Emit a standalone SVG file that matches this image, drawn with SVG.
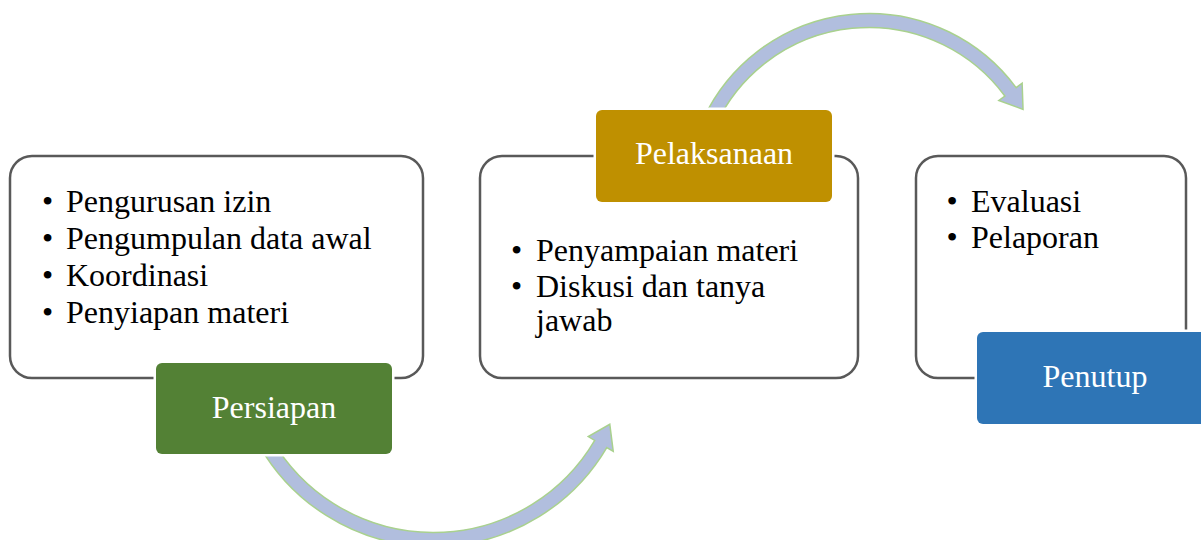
<svg xmlns="http://www.w3.org/2000/svg" width="1201" height="540" viewBox="0 0 1201 540">
  <style>
    .panel { fill: #FFFFFF; stroke: #595959; stroke-width: 2.5; }
    .label { stroke: #FFFFFF; stroke-width: 5; paint-order: stroke; }
    .arrow { fill: #B1BEDE; stroke: #A9D18E; stroke-width: 1.5; stroke-linejoin: miter; }
    .txt { font-family: "Liberation Serif", "Times New Roman", serif; font-size: 32px; fill: #000000; }
    .ltxt { font-family: "Liberation Serif", "Times New Roman", serif; font-size: 32px; fill: #FFFFFF; text-anchor: middle; }
  </style>
  <rect x="0" y="0" width="1201" height="540" fill="#FFFFFF"/>

  <g id="connectors">
    <path class="arrow" d="M259.53,446.0 A201,201 0 0 0 606.79,447.52 L613.25,451.32 L609.78,424.31 L588.26,436.6 L594.72,440.41 A187,187 0 0 1 271.65,439.0 Z"/>
    <path class="arrow" d="M703.15,119.16 A183,183 0 0 1 1016.11,87.65 L1022.14,83.19 L1023.05,109.34 L998.82,100.44 L1004.85,95.98 A169,169 0 0 0 715.83,125.08 Z"/>
  </g>

  <g id="node-persiapan-panel">
    <rect class="panel" x="10" y="156" width="413" height="222" rx="22" ry="22"/>
    <text class="txt" x="42" y="212">•</text><text class="txt" x="66" y="212">Pengurusan izin</text>
    <text class="txt" x="42" y="249">•</text><text class="txt" x="66" y="249">Pengumpulan data awal</text>
    <text class="txt" x="42" y="286">•</text><text class="txt" x="66" y="286">Koordinasi</text>
    <text class="txt" x="42" y="323">•</text><text class="txt" x="66" y="323">Penyiapan materi</text>
  </g>

  <g id="node-pelaksanaan-panel">
    <rect class="panel" x="480" y="156" width="378" height="222" rx="22" ry="22"/>
    <text class="txt" x="511" y="261">•</text><text class="txt" x="536" y="261">Penyampaian materi</text>
    <text class="txt" x="511" y="297">•</text><text class="txt" x="536" y="297">Diskusi dan tanya</text>
    <text class="txt" x="536" y="331">jawab</text>
  </g>

  <g id="node-penutup-panel">
    <rect class="panel" x="916" y="156" width="270" height="222" rx="22" ry="22"/>
    <text class="txt" x="946.5" y="212">•</text><text class="txt" x="971" y="212">Evaluasi</text>
    <text class="txt" x="946.5" y="248">•</text><text class="txt" x="971" y="248">Pelaporan</text>
  </g>

  <g id="node-persiapan">
    <rect class="label" x="156" y="363" width="236" height="91" rx="6" ry="6" fill="#538135"/>
    <text class="ltxt" x="274" y="418">Persiapan</text>
  </g>

  <g id="node-pelaksanaan">
    <rect class="label" x="596" y="110" width="236" height="92" rx="6" ry="6" fill="#BF9000"/>
    <text class="ltxt" x="714" y="164">Pelaksanaan</text>
  </g>

  <g id="node-penutup">
    <rect class="label" x="977" y="332" width="236" height="92" rx="6" ry="6" fill="#2E75B6"/>
    <text class="ltxt" x="1095" y="387">Penutup</text>
  </g>
</svg>
